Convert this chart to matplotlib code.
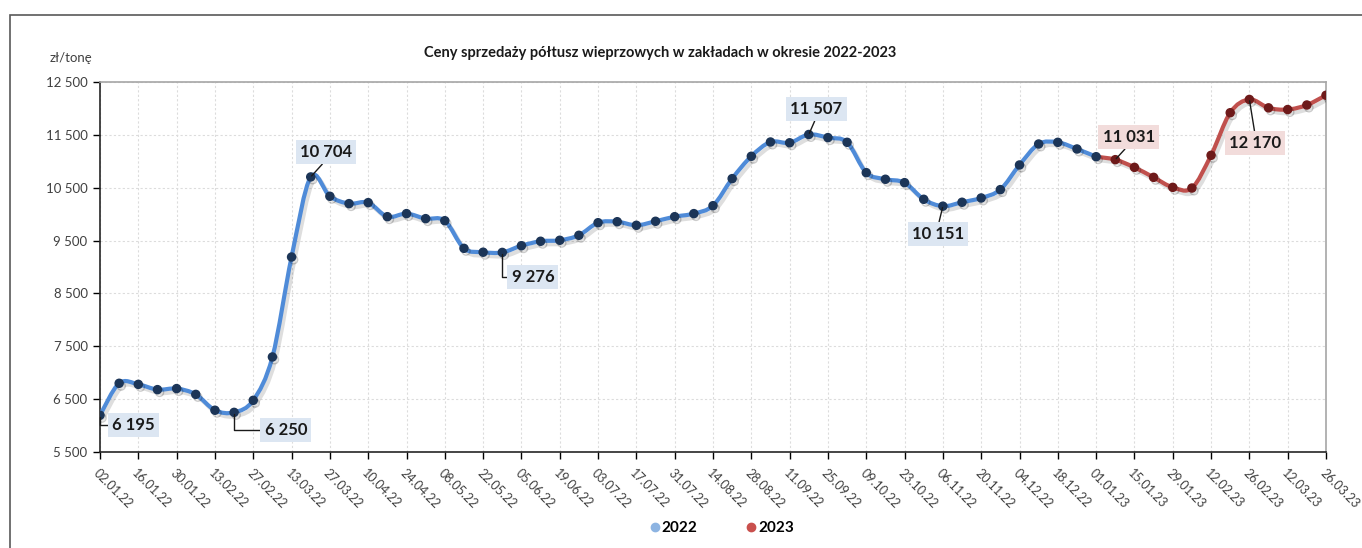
import numpy as np
import pandas as pd
import matplotlib
matplotlib.use("Agg")
import matplotlib.pyplot as plt
import matplotlib.patheffects as pe
from matplotlib.path import Path
from matplotlib.patches import PathPatch, Rectangle
from matplotlib.lines import Line2D

plt.rcParams['font.family'] = ['Lato', 'DejaVu Sans']

# weekly prices, zł/tonę (02.01.22 .. 26.03.23)
weeks = pd.date_range("2022-01-02", periods=65, freq="7D")
prices = [6195, 6800, 6780, 6680, 6700, 6590, 6290, 6250, 6478, 7298,
          9189, 10704, 10338, 10199, 10218, 9952, 10010, 9915, 9876, 9353,
          9280, 9276, 9403, 9487, 9506, 9600, 9838, 9857, 9789, 9865,
          9952, 10010, 10160, 10672, 11095, 11365, 11350, 11507, 11448, 11359,
          10785, 10660, 10596, 10281, 10151, 10225, 10306, 10464, 10930, 11327,
          11359, 11233, 11087, 11031, 10885, 10696, 10507, 10494, 11113, 11919,
          12170, 12011, 11979, 12065, 12249]
split = 52  # 01.01.23 closes the 2022 line and opens the 2023 one
labelled = [0, 7, 11, 21, 37, 44, 53, 60]
tick_labels = [d.strftime("%d.%m.%y") for d in weeks[::2]]

title = "Ceny sprzedaży półtusz wieprzowych w zakładach w okresie 2022-2023"

blue, blue_mk, blue_box = "#4F8BD8", "#1C3557", "#DCE6F2"
red, red_mk, red_box = "#C0504D", "#6E1A1A", "#F2DCDB"


def smooth_path(xs, ys):
    # cubic bezier through the points (Excel-like smoothed line)
    pts = np.column_stack([xs, ys]).astype(float)
    n = len(pts)
    verts = [pts[0]]
    codes = [Path.MOVETO]
    for i in range(n - 1):
        p0 = pts[max(i - 1, 0)]
        p1 = pts[i]
        p2 = pts[i + 1]
        p3 = pts[min(i + 2, n - 1)]
        c1 = p1 + (p2 - p0) / 6.0
        c2 = p2 - (p3 - p1) / 6.0
        verts += [c1, c2, p2]
        codes += [Path.CURVE4] * 3
    return Path(verts, codes)


fig = plt.figure(figsize=(13.62, 5.48), dpi=100)
ax = fig.add_axes([100 / 1362, 1 - 452 / 548, 1226 / 1362, 370 / 548])

# outer chart frame
fig.patches.append(Rectangle((10 / 1362, -0.05), 1.1, 1 - 15 / 548 + 0.05,
                             transform=fig.transFigure, fill=False,
                             edgecolor="#595959", linewidth=1.2))

x = np.arange(len(prices))
y = np.array(prices)
shadow = [pe.SimpleLineShadow(offset=(2, -2.5), shadow_color="k", alpha=0.13), pe.Normal()]

for sl, col in [(slice(split, None), red), (slice(0, split + 1), blue)]:
    patch = PathPatch(smooth_path(x[sl], y[sl]), fill=False, edgecolor=col,
                      linewidth=3.0, capstyle="round", joinstyle="round",
                      path_effects=shadow, zorder=3)
    ax.add_patch(patch)
for sl, mk in [(slice(split + 1, None), red_mk), (slice(0, split + 1), blue_mk)]:
    ax.plot(x[sl], y[sl], "o", color=mk, ms=5.8, mec=mk, zorder=4,
            path_effects=[pe.SimpleLineShadow(offset=(1.5, -2), alpha=0.2), pe.Normal()])

ax.set_xlim(0, len(prices) - 1)
ax.set_ylim(5500, 12500)
ax.set_yticks(np.arange(5500, 12501, 1000))
ax.set_yticklabels([f"{v:,}".replace(",", " ") for v in range(5500, 12501, 1000)])
ax.set_xticks(x[::2])
ax.set_xticklabels(tick_labels, rotation=-45, ha="left", va="top",
                   rotation_mode="anchor")
ax.tick_params(axis="x", labelsize=9, colors="#000000", labelcolor="#404040",
               length=5, width=1, pad=6)
ax.tick_params(axis="y", labelsize=9.5, colors="#000000", labelcolor="#404040",
               length=5, width=1, pad=4)
ax.grid(True, color="#DCDCDC", linestyle=(0, (2, 2)), linewidth=0.8)
ax.set_axisbelow(True)
ax.spines["left"].set_color("#262626")
ax.spines["bottom"].set_color("#262626")
ax.spines["top"].set_color("#A6A6A6")
ax.spines["right"].set_color("#A6A6A6")
for s in ax.spines.values():
    s.set_linewidth(1.2)

# data labels: (text position in data coords, connector style, relpos)
label_layout = {
    0: ((1.75, 6011), "angle,angleA=0,angleB=90,rad=0", (0, 0.5)),
    7: ((9.7, 5916), "angle,angleA=0,angleB=90,rad=0", (0, 0.5)),
    11: ((11.8, 11176), "arc3", (0.5, 0)),
    21: ((22.6, 8811), "angle,angleA=0,angleB=90,rad=0", (0, 0.5)),
    37: ((37.4, 11989), "arc3", (0.5, 0)),
    44: ((43.75, 9625), "arc3", (0.5, 1)),
    53: ((53.7, 11460), "arc3", (0.5, 0)),
    60: ((60.3, 11346), "arc3", (0.5, 1)),
}
for i in labelled:
    pos, cstyle, rel = label_layout[i]
    box = red_box if i >= split + 1 else blue_box
    ax.annotate(f"{prices[i]:,}".replace(",", " "), xy=(x[i], prices[i]),
                xytext=pos, textcoords="data", ha="center", va="center",
                fontsize=12, fontweight="bold", color="#1A1A1A",
                bbox=dict(boxstyle="square,pad=0.25", fc=box, ec="none"),
                arrowprops=dict(arrowstyle="-", color="#1A1A1A", lw=1,
                                connectionstyle=cstyle, relpos=rel,
                                shrinkA=0, shrinkB=1),
                zorder=5)

fig.text(660 / 1362, 1 - 53 / 548, title, ha="center", va="center",
         fontsize=10.5, fontweight="bold", color="#1A1A1A")
fig.text(50 / 1362, 1 - 58 / 548, "zł/tonę", ha="left", va="center",
         fontsize=9.5, color="#404040")

handles = [Line2D([], [], ls="none", marker="o", ms=6, color="#8DB4E2"),
           Line2D([], [], ls="none", marker="o", ms=6, color="#C9504D")]
fig.legend(handles, ["2022", "2023"], loc="center", ncol=2,
           bbox_to_anchor=(722 / 1362, 1 - 528 / 548), frameon=False,
           prop=dict(size=11, weight="bold"), handlelength=0.6,
           handletextpad=0.15, columnspacing=3.2)

fig.savefig("out.png", dpi=100)
